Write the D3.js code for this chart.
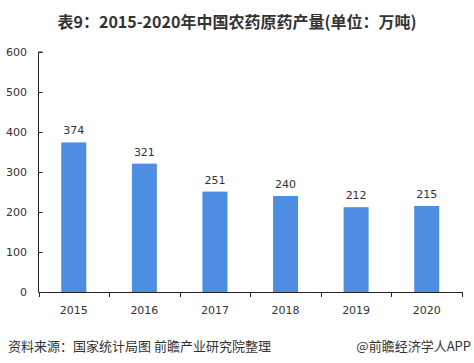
<!DOCTYPE html>
<html><head><meta charset="utf-8">
<script src="https://cdn.jsdelivr.net/npm/d3@7"></script>
<style>body{margin:0;background:#fff;}svg{display:block;}</style>
</head><body>
<svg id="c" width="474" height="363"></svg>
<script>
const categories = ["2015","2016","2017","2018","2019","2020"];
const values = [374,321,251,240,212,215];
const yTicks = [0,100,200,300,400,500,600];
const title = "表9：2015-2020年中国农药原药产量(单位：万吨)";
const source = "资料来源：国家统计局图 前瞻产业研究院整理";
const brand = "@前瞻经济学人APP";

const svg = d3.select("#c");
const font = "'Noto Sans CJK SC','Microsoft YaHei',sans-serif";
const x0 = 38.5, x1 = 462, yTop = 52, yBot = 292;
const x = d3.scaleBand().domain(categories).range([x0, x1]).paddingInner(0).paddingOuter(0);
const y = d3.scaleLinear().domain([0,600]).range([yBot, yTop]);
const barW = 25;

svg.append("text").attr("x",237).attr("y",28).attr("text-anchor","middle")
  .attr("font-family",font).attr("font-weight","bold").attr("font-size",16).attr("fill","#333")
  .text(title);

// y axis
const ya = svg.append("g").attr("transform",`translate(${x0},0)`)
  .call(d3.axisRight(y).tickValues(yTicks).tickSize(4).tickFormat(""));
ya.select(".domain").attr("stroke","#222").attr("d",`M4,${yTop}H0V${yBot}`);
ya.selectAll(".tick line").attr("stroke","#222");
svg.append("g").selectAll("text").data(yTicks).join("text")
  .attr("x",27).attr("y",d=>y(d)+4).attr("text-anchor","end")
  .attr("font-family","'DejaVu Sans',Verdana,sans-serif").attr("font-size",11).attr("fill","#333")
  .text(d=>d);

// bars
svg.append("g").selectAll("rect").data(values).join("rect")
  .attr("x",(d,i)=>x(categories[i])+x.bandwidth()/2-barW/2)
  .attr("width",barW)
  .attr("y",d=>y(d)).attr("height",d=>yBot-y(d))
  .attr("fill","#4d8ee3");

svg.append("g").selectAll("text").data(values).join("text")
  .attr("x",(d,i)=>x(categories[i])+x.bandwidth()/2)
  .attr("y",d=>y(d)-8).attr("text-anchor","middle")
  .attr("font-family","'DejaVu Sans',Verdana,sans-serif").attr("font-size",11).attr("fill","#333")
  .text(d=>d);

// x axis
const xa = svg.append("g").attr("transform",`translate(0,${yBot})`);
xa.append("line").attr("x1",x0).attr("x2",x1).attr("y1",0.5).attr("y2",0.5).attr("stroke","#222");
const bounds = categories.map(c=>x(c)).concat([x1]);
xa.selectAll(".tk").data(bounds).join("line").attr("class","tk")
  .attr("x1",d=>Math.round(d)+0.5).attr("x2",d=>Math.round(d)+0.5).attr("y1",0).attr("y2",5).attr("stroke","#222");
xa.selectAll("text").data(categories).join("text")
  .attr("x",d=>x(d)+x.bandwidth()/2).attr("y",22).attr("text-anchor","middle")
  .attr("font-family","'DejaVu Sans',Verdana,sans-serif").attr("font-size",11).attr("fill","#333")
  .text(d=>d);

svg.append("text").attr("x",8).attr("y",351)
  .attr("font-family",font).attr("font-size",13).attr("fill","#333").text(source);
svg.append("text").attr("x",471).attr("y",351).attr("text-anchor","end")
  .attr("font-family",font).attr("font-size",13).attr("fill","#333").text(brand);
</script>
</body></html>
